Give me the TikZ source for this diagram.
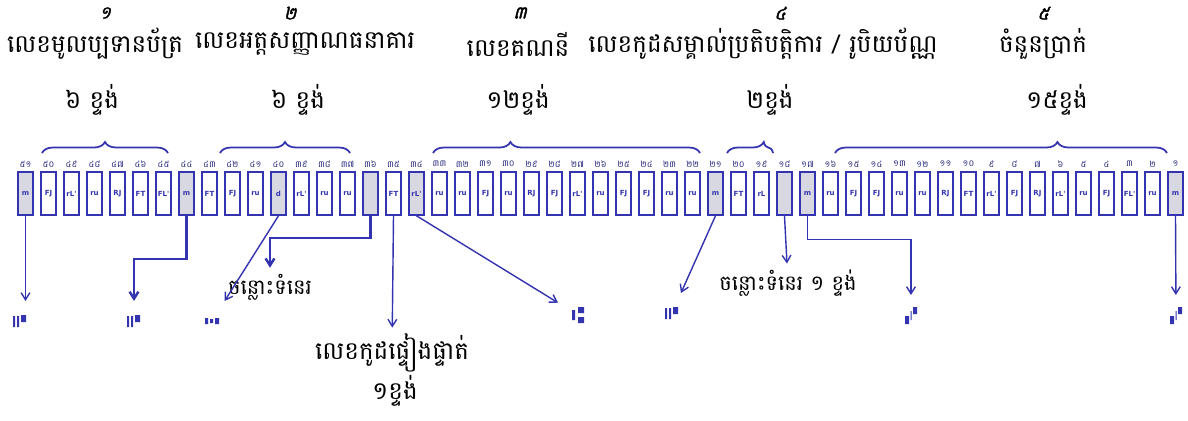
\documentclass[tikz,border=0pt]{standalone}
\usepackage{fontspec}
\usetikzlibrary{positioning}
\usetikzlibrary{calc}
\usetikzlibrary{arrows.meta}
\usetikzlibrary{decorations.pathreplacing}
\newfontfamily\khmer[Script=Khmer]{Battambang}
\newfontfamily\khmerbig[Script=Khmer,FakeSlant=0.25,FakeBold=2]{Battambang}
\newfontfamily\micr{DejaVu Sans}
\definecolor{micrblue}{RGB}{52,52,176}
\definecolor{cellgray}{RGB}{216,216,226}
\newcommand{\khdigit}[1]{\ifcase#1 ០\or ១\or ២\or ៣\or ៤\or ៥\or ៦\or ៧\or ៨\or ៩\fi}

\begin{document}
\begin{tikzpicture}[x=0.02cm, y=-0.02cm,
    cell/.style={draw=micrblue, line width=0.9pt, minimum width=0.3cm, minimum height=0.86cm, inner sep=0pt,
        font=\micr\fontsize{4}{4}\selectfont\bfseries, text=micrblue},
    num/.style={font=\khmer\fontsize{5}{5}\selectfont, text=micrblue!70!black, inner sep=0pt},
    idx/.style={font=\khmerbig\fontsize{10}{10}\selectfont},
    title/.style={font=\khmer\fontsize{14}{14}\selectfont},
    note/.style={font=\khmer\fontsize{12}{12}\selectfont},
    sym/.style={minimum width=0.4cm, minimum height=0.4cm, inner sep=0pt, outer sep=0.2cm},
    onus/.style={sym, path picture={\fill[micrblue, shift={(path picture bounding box.center)}]
        (-7,-5) rectangle (-5,6) (-3,-5) rectangle (-1,6) (1,-6) rectangle (6,1);}},
    dashsym/.style={sym, path picture={\fill[micrblue, shift={(path picture bounding box.center)}]
        (-7,-3) rectangle (-4,3) (-2,-2) rectangle (1,2) (3,-3) rectangle (7,3);}},
    transit/.style={sym, path picture={\fill[micrblue, shift={(path picture bounding box.center)}]
        (-6,-5) rectangle (-3,5) (0,-8) rectangle (6,-2) (0,2) rectangle (6,8);}},
    amount/.style={sym, path picture={\fill[micrblue, shift={(path picture bounding box.center)}]
        (-6,1) rectangle (-2,9) (-0.5,-4) rectangle (0.5,5) (2,-8) rectangle (6,-1);}},
    brc/.style={draw=micrblue, line width=1pt, decorate, decoration={brace, amplitude=0.22cm, aspect=#1}},
    brc/.default=0.5,
    conn/.style={draw=micrblue, line width=0.8pt, -{Straight Barb[length=4pt,width=5pt]}}]
    \fill[white] (0,0) rectangle (1188,420);
    \useasboundingbox (0,0) rectangle (1188,420);

    \node[idx] (i1) at (105,13) {១};
    \node[idx] (i2) at (290,13) {២};
    \node[idx] (i3) at (520,13) {៣};
    \node[idx] (i4) at (780,13) {៤};
    \node[idx] (i5) at (1043,13) {៥};

    \node[title] (t1) at (95,44) {លេខមូលប្បទានប័ត្រ};
    \node[title] (t2) at (305,44) {លេខអត្តសញ្ញាណធនាគារ};
    \node[title] (t3) at (518,44) {លេខគណនី};
    \node[title] (t4) at (763,44) {លេខកូដសម្គាល់ប្រតិបត្តិការ / រូបិយប័ណ្ណ};
    \node[title] (t5) at (1043,44) {ចំនួនប្រាក់};

    \node[title] (c1) at (92,100) {៦ ខ្ទង់};
    \node[title] (c2) at (298,100) {៦ ខ្ទង់};
    \node[title] (c3) at (518,100) {១២ខ្ទង់};
    \node[title] (c4) at (770,100) {២ខ្ទង់};
    \node[title] (c5) at (1057,100) {១៥ខ្ទង់};

    \foreach \n/\g/\f in {51/m/cellgray, 50/FJ/white, 49/rL'/white, 48/ru/white, 47/RJ/white, 46/FT/white,
        45/FL'/white, 44/m/cellgray, 43/FT/white, 42/FJ/white, 41/ru/white, 40/d/cellgray, 39/rL'/white,
        38/ru/white, 37/ru/white, 36//cellgray, 35/FT/white, 34/rL'/cellgray, 33/ru/white, 32/ru/white,
        31/FJ/white, 30/ru/white, 29/RJ/white, 28/FJ/white, 27/rL'/white, 26/ru/white, 25/FJ/white,
        24/FJ/white, 23/ru/white, 22/ru/white, 21/m/cellgray, 20/FT/white, 19/rL/white, 18//cellgray,
        17/m/cellgray, 16/ru/white, 15/FJ/white, 14/FJ/white, 13/ru/white, 12/ru/white, 11/RJ/white,
        10/FT/white, 9/rL'/white, 8/FJ/white, 7/RJ/white, 6/rL'/white, 5/ru/white, 4/FJ/white,
        3/FL'/white, 2/ru/white, 1/m/cellgray} {
        \node[cell, fill=\f] (b\n) at ({25.5+(51-\n)*23}, 193.5) {\g};
        \pgfmathtruncatemacro\tens{\n/10}
        \pgfmathtruncatemacro\ones{\n-10*\tens}
        \node[num] (n\n) at ({25.5+(51-\n)*23}, 164) {\ifnum\tens>0 \khdigit{\tens}\fi\khdigit{\ones}};
    }

    \coordinate (g1l) at (42,153);
    \coordinate (g1r) at (168,153);
    \coordinate (g2l) at (220,153);
    \coordinate (g2r) at (350,153);
    \coordinate (g3l) at (433,153);
    \coordinate (g3r) at (700,153);
    \coordinate (g4l) at (727,153);
    \coordinate (g4r) at (773,153);
    \coordinate (g5l) at (835,153);
    \coordinate (g5r) at (1167,153);
    \draw[brc] (g1l) -- (g1r);
    \draw[brc] (g2l) -- (g2r);
    \draw[brc=0.29] (g3l) -- (g3r);
    \draw[brc=0.8] (g4l) -- (g4r);
    \draw[brc=0.67] (g5l) -- (g5r);

    \node[onus] (s1) at (20,321) {};
    \node[onus] (s2) at (134,321) {};
    \node[dashsym] (s3) at (212,321) {};
    \node[transit] (s6) at (578,315) {};
    \node[onus] (s7) at (672,313) {};
    \node[amount] (s9) at (911,315) {};
    \node[amount] (s10) at (1176,315) {};

    \node[note] (gap1) at (270,287) {ចន្លោះទំនេរ};
    \node[note] (gap2) at (788,283) {ចន្លោះទំនេរ ១ ខ្ទង់};
    \node[title] (chk) at (392,353) {លេខកូដផ្ទៀងផ្ទាត់};
    \node[title] (chkn) at (395,391) {១ខ្ទង់};

    \draw[conn] (b51.south) -- (b51.south |- s1.north);
    \draw[conn, line width=1.4pt] (b44.south) -- ++(0,43) -| (s2);
    \draw[conn] (b40.south) -- (s3);
    \draw[conn, line width=1.4pt] (b36.south) -- ++(0,22) -| (gap1);
    \draw[conn] (b35.south) -- (chk);
    \draw[conn] (b34.south) -- (s6);
    \draw[conn] (b21.south) -- (s7);
    \draw[conn] (b18.south) -- (gap2);
    \draw[conn] (b17.south) -- ++(0,24) -| (s9);
    \draw[conn] (b1.south) -- (s10);
\end{tikzpicture}
\end{document}
